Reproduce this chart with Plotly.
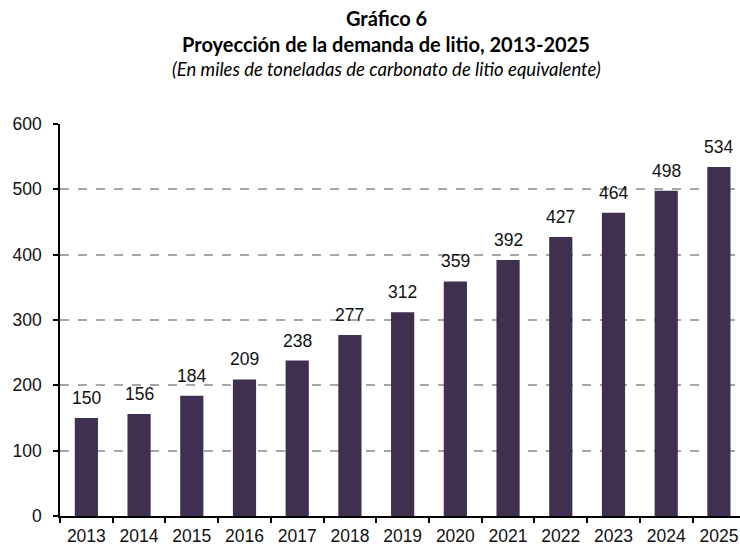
import plotly.graph_objects as go

years = ["2013", "2014", "2015", "2016", "2017", "2018", "2019",
         "2020", "2021", "2022", "2023", "2024", "2025"]
demand = [150, 156, 184, 209, 238, 277, 312, 359, 392, 427, 464, 498, 534]
y_ticks = [0, 100, 200, 300, 400, 500, 600]

title1 = "Gráfico 6"
title2 = "Proyección de la demanda de litio, 2013-2025"
subtitle = "(En miles de toneladas de carbonato de litio equivalente)"

bar_color = "#40304f"
num_font = "Liberation Sans, Arial"

W, H = 740, 545
L, R, T, B = 60, 0, 124, 29
PW, PH = W - L - R, H - T - B


def px_to_paper(xp, yp):
    return (xp - L) / PW, (H - B - yp) / PH


fig = go.Figure()
fig.add_trace(go.Bar(
    x=years, y=demand,
    marker=dict(color=bar_color, line=dict(width=0)),
    width=0.44,
    hoverinfo="x+y",
))

value_labels = [
    dict(text=str(v), x=i, y=v, xref="x", yref="y",
         xanchor="center", yanchor="bottom", yshift=8, showarrow=False,
         font=dict(family=num_font, size=17.5, color="#111111"))
    for i, v in enumerate(demand)
]

ax1, ay1 = px_to_paper(386, 18)
ax2, ay2 = px_to_paper(386, 44)
ax3, ay3 = px_to_paper(386, 69)

fig.update_layout(
    width=W, height=H,
    margin=dict(l=L, r=R, t=T, b=B),
    paper_bgcolor="white", plot_bgcolor="white",
    showlegend=False,
    xaxis=dict(
        type="category",
        range=[-0.5, 12.4],
        automargin=False,
        showline=True, linecolor="black", linewidth=1.5,
        ticks="outside", tickson="boundaries", ticklen=5, tickcolor="black", tickwidth=1.5,
        tickfont=dict(family=num_font, size=17.5, color="#111111"),
        ticklabelstandoff=3,
        showgrid=False,
    ),
    yaxis=dict(
        range=[0, 600],
        automargin=False,
        tickvals=y_ticks,
        showline=True, linecolor="black", linewidth=1.5,
        ticks="outside", ticklen=5, tickcolor="black", tickwidth=1.5,
        tickfont=dict(family=num_font, size=17.5, color="#111111"),
        ticklabelstandoff=8,
        showgrid=True, gridcolor="#a6a6a6", gridwidth=1.5, griddash="dash",
        zeroline=False,
    ),
    annotations=value_labels + [
        dict(text="<b>" + title1 + "</b>", x=ax1, y=ay1, xref="paper", yref="paper",
             xanchor="center", yanchor="middle", showarrow=False,
             font=dict(family="Lato", size=20, color="black")),
        dict(text="<b>" + title2 + "</b>", x=ax2, y=ay2, xref="paper", yref="paper",
             xanchor="center", yanchor="middle", showarrow=False,
             font=dict(family="Lato", size=20, color="black")),
        dict(text="<i>" + subtitle + "</i>", x=ax3, y=ay3, xref="paper", yref="paper",
             xanchor="center", yanchor="middle", showarrow=False,
             font=dict(family="Lato", size=18.5, color="black")),
    ],
)

fig.write_html("out.html", config={"displayModeBar": False},
               post_script="document.body.style.margin='0px';document.body.style.overflow='hidden';")
